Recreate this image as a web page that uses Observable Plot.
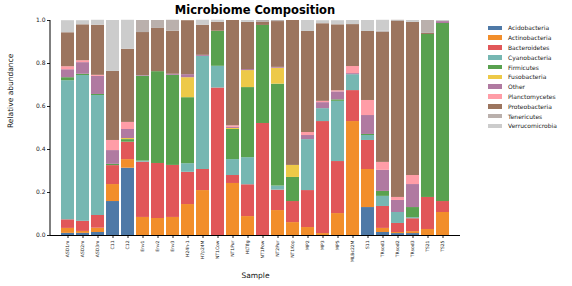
<!DOCTYPE html>
<html>
<head>
<meta charset="utf-8">
<script src="https://cdn.jsdelivr.net/npm/d3@7"></script>
<script src="https://cdn.jsdelivr.net/npm/@observablehq/plot@0.6"></script>
<style>
  body { margin: 0; background: #fff; font-family: "DejaVu Sans", sans-serif; }
  #wrap { position: relative; width: 572px; height: 286px; overflow: hidden; }
  #title { position: absolute; left: 50px; width: 410px; top: 3px; text-align: center; font-weight: bold; font-size: 11.5px; color: #000; }
  #legend { position: absolute; left: 488px; top: 23px; font-size: 6px; color: #222; }
  .li { display: flex; align-items: center; height: 9.8px; }
  .sw { width: 14px; height: 4.5px; margin-right: 6px; }
</style>
</head>
<body>
<div id="wrap">
  <div id="chart"></div>
  <div id="title">Microbiome Composition</div>
  <div id="legend"></div>
</div>
<script>
const samples = ["ASD1m","ASD2m","ASD3m","C11","C12","Env1","Env2","Env3","H24h-1","H7p24M","NT1Cow","NT1Pur","HLT8g","NT1Pow","NT2Pur","NT1Kop","MP2","MP3","MP5","MLBc22M","S11","TRsod1","TRsod2","TRsod3","TS21","TS25"];
const phyla = ["Acidobacteria","Actinobacteria","Bacteroidetes","Cyanobacteria","Firmicutes","Fusobacteria","Other","Planctomycetes","Proteobacteria","Tenericutes","Verrucomicrobia"];
const colors = ["#4e79a7","#f28e2b","#e15759","#76b7b2","#59a14f","#edc948","#b07aa1","#ff9da7","#9c755f","#bab0ac","#cccccc"];

const acidobacteria   = [0.010,0.010,0.014,0.158,0.313,0,0,0,0,0,0,0,0,0,0,0,0,0,0,0,0.130,0.014,0.009,0.009,0,0];
const actinobacteria  = [0.023,0.009,0.020,0.079,0.040,0.084,0.079,0.084,0.144,0.209,0,0.242,0.088,0,0.116,0.060,0.037,0.009,0.102,0.530,0.177,0.019,0.005,0.009,0.028,0.107];
const bacteroidetes   = [0.040,0.047,0.059,0.088,0.081,0.257,0.256,0.242,0.150,0.098,0.686,0.037,0.148,0.521,0.095,0.098,0.172,0.521,0.242,0.144,0.135,0.102,0.042,0.060,0.149,0.051];
const cyanobacteria   = [0.647,0.678,0.558,0,0,0.005,0,0,0.040,0.526,0.101,0.074,0.126,0,0.019,0,0.237,0.060,0.280,0.074,0.023,0.047,0.051,0.005,0,0];
const firmicutes      = [0.014,0.006,0.005,0.006,0.012,0.395,0.427,0.419,0.307,0,0.163,0.140,0.326,0.456,0.474,0.112,0,0,0.007,0,0.005,0.023,0,0.047,0.758,0.828];
const fusobacteria    = [0,0,0,0,0.005,0,0,0,0.093,0,0,0.005,0.079,0,0.074,0.056,0,0,0,0,0,0,0,0,0,0];
const other           = [0.037,0.054,0.084,0.064,0.042,0.003,0,0.005,0.014,0.005,0,0.005,0.005,0,0.004,0,0.019,0.028,0.037,0.005,0.088,0.098,0.056,0.107,0,0.009];
const planctomycetes  = [0.014,0.009,0.005,0.047,0.033,0,0,0,0,0,0,0.007,0,0,0,0,0.014,0.006,0.005,0.033,0.070,0.037,0.014,0.042,0,0];
const proteobacteria  = [0.158,0.167,0.233,0.321,0.340,0.200,0.201,0.200,0.251,0.140,0.042,0.490,0.219,0.014,0.213,0.674,0.470,0.361,0.307,0.195,0.321,0.605,0.819,0.712,0.005,0];
const tenericutes     = [0,0,0,0,0,0.056,0.037,0.051,0,0,0,0,0,0.009,0.005,0,0,0,0,0,0,0.005,0.005,0,0.060,0];
const verrucomicrobia = [0.056,0.019,0.023,0.237,0.135,0,0,0,0,0.023,0.009,0,0.009,0,0,0,0.051,0.014,0.019,0.019,0.051,0.051,0,0.009,0,0.005];

const series = [acidobacteria,actinobacteria,bacteroidetes,cyanobacteria,firmicutes,fusobacteria,other,planctomycetes,proteobacteria,tenericutes,verrucomicrobia];
const yTicks = [0,0.2,0.4,0.6,0.8,1.0];

const data = [];
phyla.forEach((p, j) => samples.forEach((s, i) => data.push({sample: s, phylum: p, value: series[j][i]})));

const plot = Plot.plot({
  width: 572, height: 286,
  marginLeft: 50, marginRight: 112, marginTop: 20, marginBottom: 51,
  style: {fontFamily: "DejaVu Sans, sans-serif", fontSize: "6px", color: "#222", background: "transparent"},
  x: {domain: samples, paddingInner: 0.15, paddingOuter: 0.3, label: null},
  y: {domain: [0, 1], label: null},
  color: {domain: phyla, range: colors},
  marks: [
    Plot.barY(data, {x: "sample", y: "value", fill: "phylum", z: "phylum"}),
    Plot.axisY({ticks: yTicks, tickFormat: d3.format(".1f"), tickSize: 3, tickPadding: 2, fontSize: 6}),
    Plot.axisX({tickSize: 3, tickRotate: -90, fontSize: 4.5, tickPadding: 2}),
    Plot.ruleY([0], {stroke: "#000", strokeWidth: 1}),
    Plot.text(["Sample"], {frameAnchor: "bottom", dy: 42, fontSize: 7.5, fill: "#111"}),
    Plot.text(["Relative abundance"], {frameAnchor: "left", dx: -40, rotate: -90, fontSize: 7.5, fill: "#111"})
  ]
});

// left spine from the y scale
const ys = plot.scale("y");
d3.select(plot).append("line")
  .attr("x1", 50).attr("x2", 50)
  .attr("y1", ys.apply(0)).attr("y2", ys.apply(1))
  .attr("stroke", "#000").attr("stroke-width", 1);

document.getElementById("chart").appendChild(plot);

const lg = d3.select("#legend");
phyla.forEach((p, i) => {
  const row = lg.append("div").attr("class", "li");
  row.append("div").attr("class", "sw").style("background", colors[i]);
  row.append("span").text(p);
});
</script>
</body>
</html>
